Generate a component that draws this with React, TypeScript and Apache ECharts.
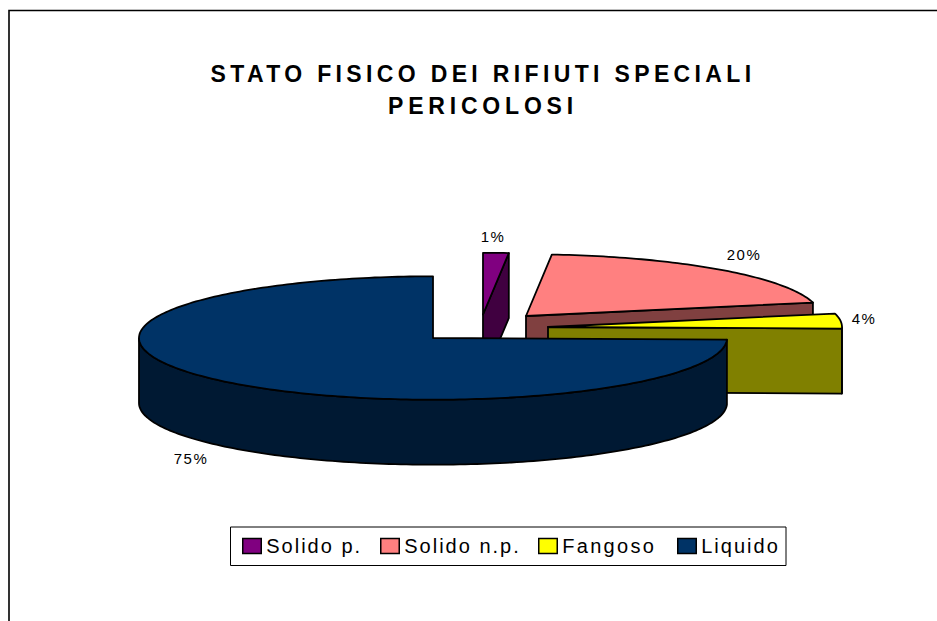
import React, { useEffect, useRef } from "react";
import * as echarts from "echarts";

const categories = ["Solido p.", "Solido n.p.", "Fangoso", "Liquido"];
const shares = [1.4, 20.1, 3.9, 74.6];
const topColors = ["#800080", "#FF8080", "#FFFF00", "#003366"];
const sideColors = ["#400040", "#804040", "#808000", "#001933"];
const titleLines = ["STATO FISICO DEI RIFIUTI SPECIALI", "PERICOLOSI"];

const FONT = "'Liberation Sans', Arial, sans-serif";
const RX = 294;
const RY = 61.7;
const DEPTH = 65;
// pie centre of each slice once pulled out of the pie
const centres = [
  [483, 314.5],
  [526, 316],
  [548, 327],
  [433, 338],
];
const labelAt = [
  [493, 236],
  [744, 254],
  [864, 318],
  [191, 458],
];
const legendLeft = [242, 380, 538, 677];

const total = shares.reduce((a, b) => a + b, 0);
const startAngle = (i: number) =>
  (shares.slice(0, i).reduce((a, b) => a + b, 0) / total) * Math.PI * 2;

function rim(i: number, value: number) {
  const [cx, cy] = centres[i];
  const a0 = startAngle(i);
  const a1 = a0 + (value / total) * Math.PI * 2;
  const n = Math.max(4, Math.ceil((a1 - a0) / 0.02));
  const pts: number[][] = [];
  for (let k = 0; k <= n; k++) {
    const a = a0 + ((a1 - a0) * k) / n;
    pts.push([cx + RX * Math.sin(a), cy - RY * Math.cos(a)]);
  }
  return pts;
}

const down = (p: number[]) => [p[0], p[1] + DEPTH];
const edge = { stroke: "#000", lineWidth: 1.8, lineJoin: "round" as const };

function renderSlice(i: number) {
  return (_params: any, api: any) => {
    const value = api.value(0);
    const pts = rim(i, value);
    const centre = centres[i];
    const children: any[] = [];
    // outer wall: the part of the rim facing the viewer
    const front = pts.filter((_p, k) => {
      const a = startAngle(i) + (k / (pts.length - 1)) * (value / total) * Math.PI * 2;
      return Math.cos(a) <= 0.0001 && a <= Math.PI * 1.5 + 0.0001;
    });
    if (front.length > 1) {
      children.push({
        type: "polygon",
        shape: { points: [...front, ...front.map(down).reverse()] },
        style: { fill: sideColors[i], ...edge },
      });
    }
    // flat cut wall at the end of the slice, seen only on the first three
    if (i < 3) {
      const end = pts[pts.length - 1];
      children.push({
        type: "polygon",
        shape: { points: [centre, end, down(end), down(centre)] },
        style: { fill: sideColors[i], ...edge },
      });
    }
    children.push({
      type: "polygon",
      shape: { points: [centre, ...pts] },
      style: { fill: topColors[i], ...edge },
    });
    children.push({
      type: "text",
      x: labelAt[i][0],
      y: labelAt[i][1],
      style: {
        text: `${Math.round(value)}%`,
        fill: "#000",
        font: `15px ${FONT}`,
        align: "center",
        verticalAlign: "middle",
      },
    });
    return { type: "group", children };
  };
}

const spacingBySize: Record<string, string> = {
  "23px": "4.35px",
  "20px": "2px",
  "15px": "1.5px",
};
const spacingByText: Record<string, string> = {
  PERICOLOSI: "4.8px",
  Fangoso: "2.3px",
};

export default function App() {
  const ref = useRef<HTMLDivElement>(null);
  useEffect(() => {
    document.body.style.margin = "0";
    const chart = echarts.init(ref.current!, undefined, { renderer: "svg" });
    chart.setOption({
      animation: false,
      backgroundColor: "#fff",
      title: {
        text: titleLines.join("\n"),
        left: 478,
        top: 53,
        textAlign: "center",
        textStyle: {
          fontFamily: FONT,
          fontSize: 23,
          fontWeight: "bold",
          color: "#000",
          lineHeight: 32,
        },
      },
      legend: categories.map((name, i) => ({
        left: legendLeft[i],
        top: 536,
        padding: 0,
        itemWidth: 18.5,
        itemHeight: 15,
        icon: "rect",
        itemStyle: { borderColor: "#000", borderWidth: 1.5 },
        selectedMode: false,
        z: 4,
        textStyle: { fontFamily: FONT, fontSize: 20, color: "#000" },
        data: [name],
      })),
      graphic: [
        {
          type: "polyline",
          silent: true,
          z: 0,
          shape: { points: [[9, 621], [9, 10.5], [937, 10.5]] },
          style: { stroke: "#000", lineWidth: 1.6, fill: "none" },
        },
        {
          type: "rect",
          silent: true,
          z: 0,
          shape: { x: 230.5, y: 527, width: 555.5, height: 38.5 },
          style: { stroke: "#000", lineWidth: 1, fill: "#fff" },
        },
      ],
      series: categories.map((name, i) => ({
        type: "custom",
        name,
        coordinateSystem: "none",
        silent: true,
        z: 2 + i,
        itemStyle: { color: topColors[i] },
        data: [[shares[i]]],
        renderItem: renderSlice(i),
      })),
    });
    const root = ref.current!;
    root.querySelectorAll("text").forEach((t) => {
      const size = getComputedStyle(t).fontSize;
      const spacing = spacingByText[t.textContent || ""] || spacingBySize[size];
      if (spacing) (t as SVGTextElement).style.letterSpacing = spacing;
    });
    return () => chart.dispose();
  }, []);
  return <div ref={ref} style={{ width: 937, height: 621 }} />;
}
